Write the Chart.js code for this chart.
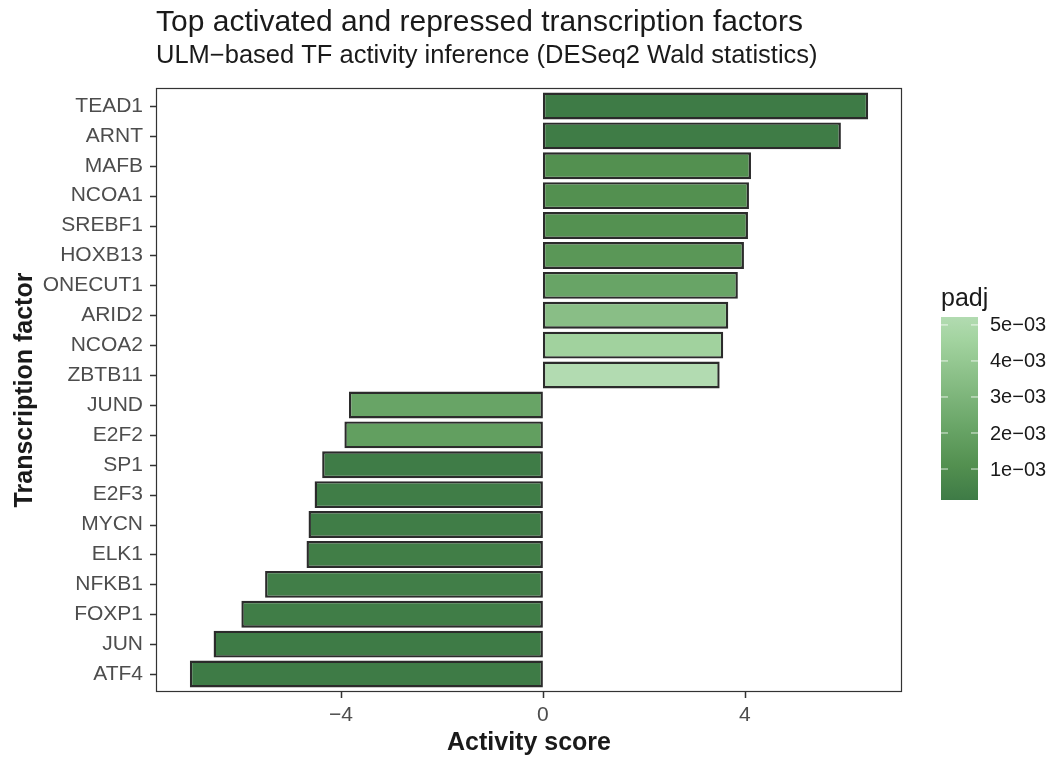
<!DOCTYPE html>
<html>
<head>
<meta charset="utf-8">
<script src="https://cdn.jsdelivr.net/npm/chart.js@4"></script>
<style>
  html, body { margin: 0; padding: 0; background: #fff; }
  #wrap { width: 1056px; height: 758px; }
</style>
</head>
<body>
<div id="wrap"><canvas id="tfChart" width="1056" height="758"></canvas></div>
<script>
// Data
const factors = ["TEAD1", "ARNT", "MAFB", "NCOA1", "SREBF1", "HOXB13", "ONECUT1", "ARID2", "NCOA2", "ZBTB11",
  "JUND", "E2F2", "SP1", "E2F3", "MYCN", "ELK1", "NFKB1", "FOXP1", "JUN", "ATF4"];
const scores = [6.44, 5.90, 4.12, 4.08, 4.06, 3.98, 3.86, 3.67, 3.57, 3.50,
  -3.84, -3.93, -4.37, -4.52, -4.64, -4.68, -5.50, -5.97, -6.52, -6.99];
const padj = [0.00015, 0.00018, 0.00110, 0.00112, 0.00115, 0.00145, 0.00210, 0.00350, 0.00450, 0.00522,
  0.00210, 0.00185, 0.00020, 0.00022, 0.00024, 0.00026, 0.00030, 0.00022, 0.00016, 0.00014];
const xTicks = [-4, 0, 4];
const legendTicks = [0.001, 0.002, 0.003, 0.004, 0.005];
const legendLabels = ["1e\u221203", "2e\u221203", "3e\u221203", "4e\u221203", "5e\u221203"];

// colour ramp, dark (low padj) to light (high padj)
const rampPos = [0, 0.19, 0.39, 0.67, 0.87, 1];
const rampRGB = [[62, 123, 70], [83, 144, 80], [104, 164, 102], [138, 191, 135], [162, 211, 159], [178, 219, 177]];
const padjMin = Math.min(...padj);
const padjMax = Math.max(...padj);

function rampColor(t) {
  t = Math.max(0, Math.min(1, t));
  let i = 0;
  while (i < rampPos.length - 2 && t > rampPos[i + 1]) i++;
  const f = (t - rampPos[i]) / (rampPos[i + 1] - rampPos[i]);
  const c = rampRGB[i].map((v, k) => Math.round(v + (rampRGB[i + 1][k] - v) * f));
  return "rgb(" + c.join(",") + ")";
}

function padjColor(p) {
  return rampColor((p - padjMin) / (padjMax - padjMin));
}

const FONT = "'Liberation Sans', Arial, Helvetica, sans-serif";
// panel frame (ggplot expands the discrete axis a little more than Chart.js)
const PANEL = { left: 156, right: 902, top: 88, bottom: 692 };

// Titles, panel frame, tick marks and padj colour bar
const decorations = {
  id: "decorations",
  afterDraw(chart) {
    const ctx = chart.ctx;
    const xs = chart.scales.x;
    const ys = chart.scales.y;
    ctx.save();
    ctx.fillStyle = "#1a1a1a";
    ctx.textBaseline = "alphabetic";
    ctx.textAlign = "left";
    ctx.font = "30px " + FONT;
    ctx.fillText("Top activated and repressed transcription factors", 156, 31);
    ctx.font = "25.5px " + FONT;
    ctx.fillText("ULM\u2212based TF activity inference (DESeq2 Wald statistics)", 156, 63);

    // panel border
    ctx.strokeStyle = "#333333";
    ctx.lineWidth = 1.2;
    ctx.strokeRect(PANEL.left + 0.5, PANEL.top + 0.5, PANEL.right - PANEL.left - 1, PANEL.bottom - PANEL.top - 1);

    // tick marks
    ctx.lineWidth = 1.5;
    ctx.beginPath();
    xs.ticks.forEach((t) => {
      const x = Math.round(xs.getPixelForValue(t.value)) + 0.5;
      ctx.moveTo(x, PANEL.bottom);
      ctx.lineTo(x, PANEL.bottom + 6);
    });
    factors.forEach((f, i) => {
      const y = Math.round(ys.getPixelForValue(i)) + 0.5;
      ctx.moveTo(PANEL.left - 6, y);
      ctx.lineTo(PANEL.left, y);
    });
    ctx.stroke();

    // colour bar legend
    const bx = 941, bw = 37, by = 317, bh = 183;
    const grad = ctx.createLinearGradient(0, by + bh, 0, by);
    rampPos.forEach((p) => grad.addColorStop(p, rampColor(p)));
    ctx.fillStyle = grad;
    ctx.fillRect(bx, by, bw, bh);

    ctx.fillStyle = "#1a1a1a";
    ctx.font = "25px " + FONT;
    ctx.fillText("padj", 941, 306);

    ctx.font = "20px " + FONT;
    ctx.textBaseline = "middle";
    ctx.lineWidth = 1;
    legendTicks.forEach((v, i) => {
      const y = by + bh - (v - padjMin) / (padjMax - padjMin) * bh;
      ctx.strokeStyle = "rgba(255,255,255,0.8)";
      ctx.beginPath();
      ctx.moveTo(bx, y); ctx.lineTo(bx + 7, y);
      ctx.moveTo(bx + bw - 7, y); ctx.lineTo(bx + bw, y);
      ctx.stroke();
      ctx.fillStyle = "#1a1a1a";
      ctx.fillText(legendLabels[i], 990, y + 1);
    });
    ctx.restore();
  }
};

const ctx = document.getElementById("tfChart").getContext("2d");
const tfChart = new Chart(ctx, {
  type: "bar",
  data: {
    labels: factors,
    datasets: [
      {
        data: scores,
        backgroundColor: padj.map(padjColor),
        borderColor: "#2b2b2b",
        borderWidth: 2.4,
        borderSkipped: false,
        barPercentage: 0.9,
        categoryPercentage: 1.0,
      },
    ],
  },
  options: {
    indexAxis: "y",
    responsive: false,
    animation: false,
    layout: {
      padding: { top: 91, right: 154, bottom: 0, left: 0 },
    },
    scales: {
      x: {
        min: -7.66,
        max: 7.11,
        afterBuildTicks: function (axis) {
          axis.ticks = xTicks.map((v) => ({ value: v }));
        },
        afterFit: function (axis) {
          axis.height = 69;
        },
        grid: { display: false, drawTicks: false },
        border: { display: false },
        ticks: {
          color: "#4d4d4d",
          font: { family: FONT, size: 21 },
          padding: 14,
          callback: function (value) {
            return value < 0 ? "\u2212" + Math.abs(value) : String(value);
          },
        },
        title: {
          display: true,
          text: "Activity score",
          color: "#1a1a1a",
          font: { family: FONT, size: 25, weight: "bold" },
          padding: { top: 0, bottom: 0 },
        },
      },
      y: {
        afterFit: function (axis) {
          axis.width = 156;
        },
        grid: { display: false, drawTicks: false },
        border: { display: false },
        ticks: {
          color: "#4d4d4d",
          font: { family: FONT, size: 21 },
          padding: 13,
        },
        title: {
          display: true,
          text: "Transcription factor",
          color: "#1a1a1a",
          font: { family: FONT, size: 25, weight: "bold" },
          padding: { top: 10, bottom: 0 },
        },
      },
    },
    plugins: {
      legend: { display: false },
      tooltip: { enabled: false },
    },
  },
  plugins: [decorations],
});
</script>
</body>
</html>
